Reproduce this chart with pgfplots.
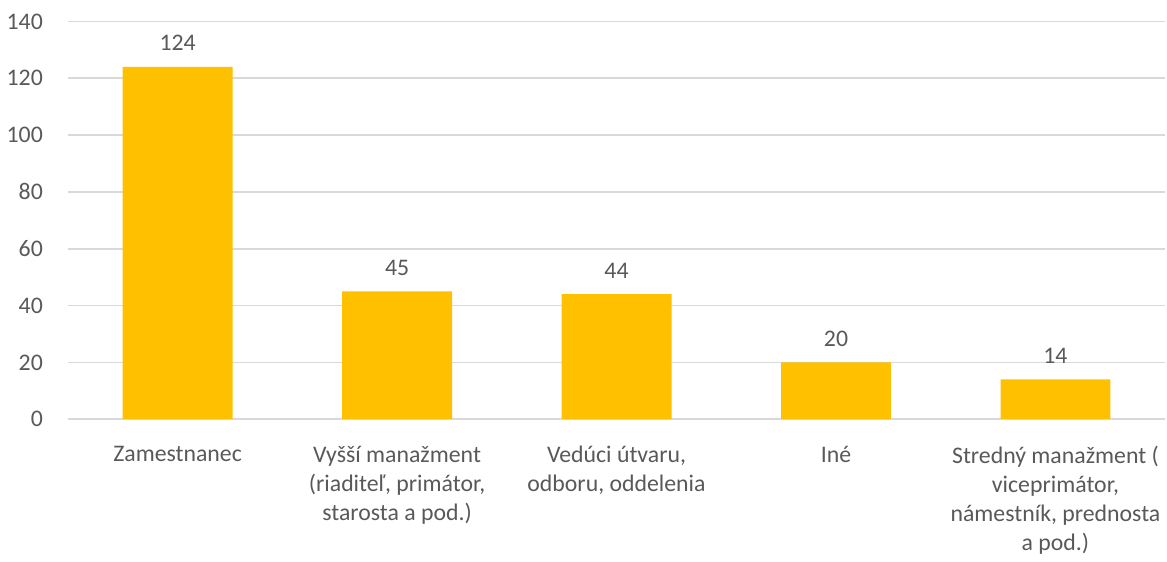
\documentclass[border=0pt]{standalone}
\usepackage{fontspec}
\setmainfont{Carlito}
\usepackage{pgfplots}
\pgfplotsset{compat=1.18}
\definecolor{barcol}{HTML}{FFC000}
\definecolor{txt}{HTML}{595959}
\definecolor{grd}{HTML}{D9D9D9}
\begin{document}
\begin{tikzpicture}
\begin{axis}[
    scale only axis,
    width=549pt, height=199pt,
    xmin=-0.5, xmax=4.5,
    ymin=0, ymax=140,
    ytick={0,20,...,140},
    xtick=data,
    xticklabels={
        Zamestnanec,
        {Vyšší manažment\\(riaditeľ, primátor,\\starosta a pod.)},
        {Vedúci útvaru,\\odboru, oddelenia},
        Iné,
        {Stredný manažment (\\viceprimátor,\\námestník, prednosta\\a pod.)}},
    xticklabel style={align=center, font=\fontsize{11.9}{14.5}\selectfont, text=txt, yshift=-10pt},
    yticklabel style={font=\fontsize{11.9}{14.5}\selectfont, text=txt, xshift=-9pt},
    /pgf/number format/assume math mode=true,
    axis x line*=bottom,
    axis y line*=left,
    y axis line style={draw=none},
    x axis line style={draw=grd, line width=0.8pt},
    major tick length=0pt,
    ymajorgrids,
    grid style={draw=grd, line width=0.8pt},
    ybar, bar width=55pt,
    nodes near coords,
    every node near coord/.append style={font=\fontsize{11.9}{14.5}\selectfont, text=txt, yshift=4.5pt},
    clip=false,
]
\addplot[fill=barcol, draw=none] coordinates {
    (0,124) (1,45) (2,44) (3,20) (4,14)
};
\end{axis}
% a little white space above the top tick label, as in the reference
\path ([yshift=3.5pt]current bounding box.north) -- (current bounding box.north);
\end{tikzpicture}
\end{document}
